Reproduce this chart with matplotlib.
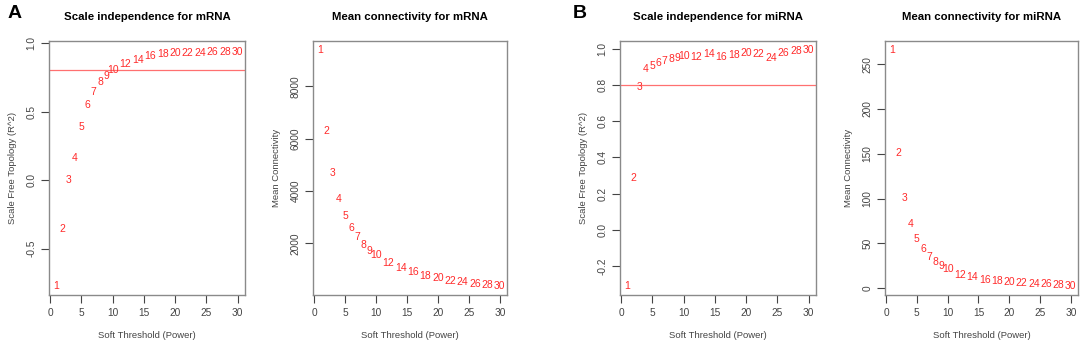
import numpy as np
import matplotlib
matplotlib.use("Agg")
import matplotlib.pyplot as plt

plt.rcParams['font.family'] = ['Liberation Sans', 'DejaVu Sans']
plt.rcParams['axes.unicode_minus'] = False

powers = [1, 2, 3, 4, 5, 6, 7, 8, 9, 10, 12, 14, 16, 18, 20, 22, 24, 26, 28, 30]

mrna_r2 = [-0.77, -0.36, 0.0, 0.16, 0.385, 0.545, 0.64, 0.714, 0.763, 0.80,
           0.847, 0.879, 0.905, 0.918, 0.925, 0.927, 0.93, 0.932, 0.932, 0.932]
mrna_k = [9368, 6275, 4690, 3680, 3042, 2569, 2236, 1930, 1712, 1534,
          1240, 1048, 895, 754, 665, 575, 511, 460, 422, 383]

mirna_r2 = [-0.309, 0.286, 0.791, 0.889, 0.906, 0.920, 0.932, 0.945, 0.948, 0.959,
            0.956, 0.969, 0.956, 0.963, 0.976, 0.972, 0.950, 0.974, 0.987, 0.991]
mirna_k = [265.3, 151.3, 100.6, 71.5, 54.8, 43.6, 35.4, 29.1, 25.0, 21.2,
           14.9, 12.7, 9.7, 8.2, 6.7, 5.6, 5.2, 4.5, 3.7, 3.0]

cutoff = 0.8

W, H = 1084, 345
fig = plt.figure(figsize=(W / 100, H / 100), dpi=100)

box_col = '#8a8a8a'
txt_col = '#444444'
red = '#ff2a2a'


def panel(px_left, px_right, values, title, ylabel, yticks, hline=None, ytop=None):
    ax = fig.add_axes([px_left / W, 50 / H, (px_right - px_left) / W, 254 / H])
    lo, hi = min(values), max(values)
    pad = (hi - lo) * 0.04
    ax.set_ylim(lo - pad, ytop if ytop is not None else hi + pad)
    ax.set_xlim(1 - 29 * 0.04, 30 + 29 * 0.04)
    for p, v in zip(powers, values):
        ax.text(p, v, str(p), color=red, fontsize=7.5, ha='center', va='center')
    if hline is not None:
        ax.axhline(hline, color='#ff7070', lw=0.9)
    ax.set_xticks([0, 5, 10, 15, 20, 25, 30])
    ax.set_yticks(yticks)
    ax.tick_params(colors=txt_col, labelsize=7.3, length=6, width=0.8, pad=3)
    ax.tick_params(axis='y', labelrotation=90)
    plt.setp(ax.get_yticklabels(), va='center')
    for s in ax.spines.values():
        s.set_color(box_col)
        s.set_linewidth(1.0)
    ax.set_title(title, fontsize=8.2, fontweight='bold', pad=15, color='black')
    ax.set_xlabel("Soft Threshold (Power)", fontsize=6.8, color=txt_col, labelpad=10)
    ax.set_ylabel(ylabel, fontsize=6.8, color=txt_col, labelpad=7)
    return ax


panel(49, 245, mrna_r2, "Scale independence for mRNA", "Scale Free Topology (R^2)",
      [-0.5, 0.0, 0.5, 1.0], hline=cutoff, ytop=1.015)
panel(313, 507, mrna_k, "Mean connectivity for mRNA", "Mean Connectivity",
      [2000, 4000, 6000, 8000])
panel(620, 816, mirna_r2, "Scale independence for miRNA", "Scale Free Topology (R^2)",
      [-0.2, 0.0, 0.2, 0.4, 0.6, 0.8, 1.0], hline=cutoff)
panel(885, 1078, mirna_k, "Mean connectivity for miRNA", "Mean Connectivity",
      [0, 50, 100, 150, 200, 250])

fig.text(8 / W, 1 - 13 / H, "A", fontsize=14, fontweight='bold', va='center', ha='left')
fig.text(573 / W, 1 - 13 / H, "B", fontsize=14, fontweight='bold', va='center', ha='left')

fig.savefig("out.png", dpi=100)
